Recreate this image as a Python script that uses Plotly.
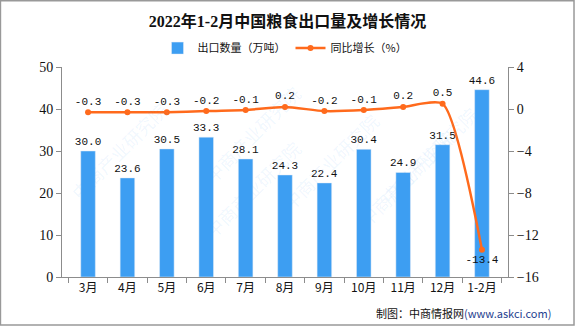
import plotly.graph_objects as go

categories = ["3月", "4月", "5月", "6月", "7月", "8月", "9月", "10月", "11月", "12月", "1-2月"]
export_volume = [30.0, 23.6, 30.5, 33.3, 28.1, 24.3, 22.4, 30.4, 24.9, 31.5, 44.6]
yoy_growth = [-0.3, -0.3, -0.3, -0.2, -0.1, 0.2, -0.2, -0.1, 0.2, 0.5, -13.4]

BAR_COLOR = "#3d9ef2"
LINE_COLOR = "#ff6a1c"
AXIS_COLOR = "#8c8c8c"
SERIF = "Liberation Serif, Noto Sans CJK SC"
MONO = "Liberation Mono, Noto Sans CJK SC"

fig = go.Figure()
fig.add_trace(go.Bar(
    x=categories, y=export_volume, name="出口数量（万吨）",
    marker_color=BAR_COLOR, width=0.37,
    text=[f"{v:.1f}" for v in export_volume], textposition="outside",
    textfont=dict(family=MONO, size=11, color="#111"),
    constraintext="none", cliponaxis=False,
))
fig.add_trace(go.Scatter(
    x=categories, y=yoy_growth, name="同比增长（%）", yaxis="y2",
    mode="lines+markers+text", line=dict(color=LINE_COLOR, width=2.5, shape="spline", smoothing=0.6),
    marker=dict(size=6, color=LINE_COLOR),
    text=[f"{v:.1f}" for v in yoy_growth],
    textposition=["top center"] * 10 + ["bottom center"],
    textfont=dict(family=MONO, size=11, color="#111"),
    cliponaxis=False,
))

# watermark
wm = []
for (x, y) in [(0.0, 0.6), (0.3, 0.95), (0.3, 0.15), (0.6, 0.55), (0.95, 0.85), (0.9, 0.2)]:
    wm.append(dict(text="中商产业研究院", x=x, y=y, xref="paper", yref="paper", showarrow=False,
                   textangle=-45, font=dict(family="Noto Sans CJK SC", size=18, color="rgba(61,158,242,0.08)")))

fig.update_layout(
    width=575, height=326,
    margin=dict(l=62, r=67, t=67, b=49),
    paper_bgcolor="white", plot_bgcolor="white",
    title=dict(text="<b>2022年1-2月中国粮食出口量及增长情况</b>", x=0.5, xanchor="center", y=0.935, yanchor="middle",
               font=dict(family="Liberation Serif, Noto Sans CJK SC", size=16, color="#111")),
    legend=dict(orientation="h", x=0.5, xanchor="center", y=1.09, yanchor="middle",
                font=dict(family="Noto Sans CJK SC", size=11, color="#111"), itemwidth=30, traceorder="normal"),
    showlegend=True,
    xaxis=dict(showline=True, linecolor=AXIS_COLOR, ticks="outside", tickson="boundaries", ticklen=5, tickcolor=AXIS_COLOR,
               tickfont=dict(family="Noto Sans CJK SC", size=12, color="#111"), showgrid=False),
    yaxis=dict(range=[0, 50], dtick=10, showline=True, linecolor=AXIS_COLOR, ticks="outside", ticklen=5, tickcolor=AXIS_COLOR,
               showgrid=False, zeroline=False, tickfont=dict(family=SERIF, size=14, color="#111")),
    yaxis2=dict(range=[-16, 4], dtick=4, overlaying="y", side="right", showline=True, linecolor=AXIS_COLOR, ticks="outside",
                ticklen=5, tickcolor=AXIS_COLOR, showgrid=False, zeroline=False,
                tickfont=dict(family=SERIF, size=14, color="#111")),
    annotations=wm + [
        dict(text="制图：中商情报网<span style='color:#1f3f8f'>(www.askci.com)</span>", x=1.1, y=-0.17, xref="paper", yref="paper",
             xanchor="right", yanchor="middle", showarrow=False,
             font=dict(family="Noto Sans CJK SC", size=11, color="#111")),
    ],
    shapes=[dict(type="rect", xref="paper", yref="paper", x0=-0.138, x1=1.148, y0=-0.229, y1=1.316,
                 line=dict(color="#999", width=1.5), fillcolor="rgba(0,0,0,0)", layer="below")],
)

fig.write_html("out.html")
